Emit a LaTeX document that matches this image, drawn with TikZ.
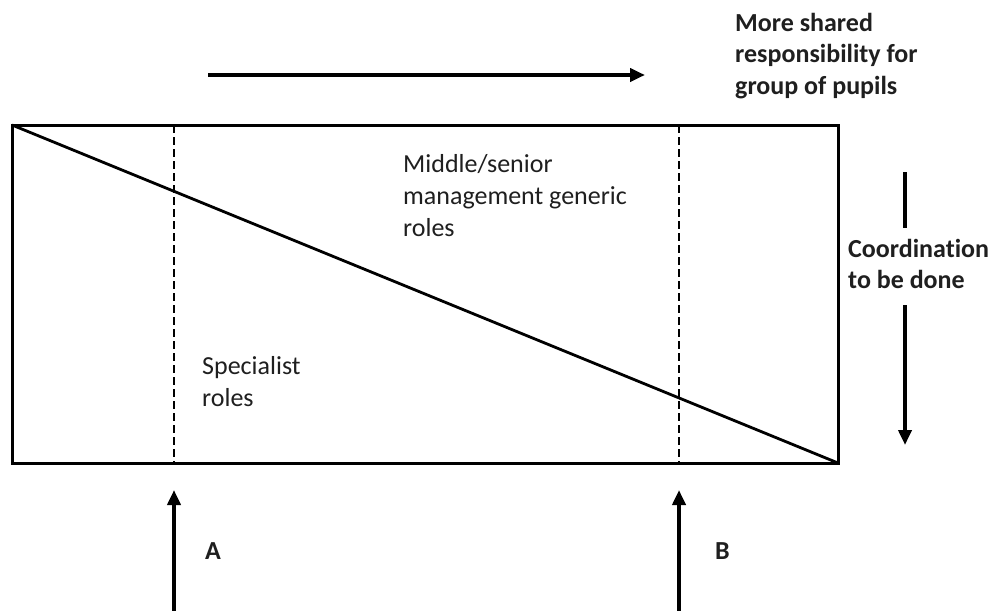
\documentclass[tikz,border=0pt]{standalone}
\usepackage{fontspec}
\setmainfont{Carlito}[Ligatures=NoCommon]
\usetikzlibrary{arrows.meta}
\begin{document}
\begin{tikzpicture}[x=1pt,y=-1pt,
  frame/.style={line width=3pt, line cap=rect},
  divider/.style={line width=2.6pt, dash pattern=on 8pt off 4pt},
  bigarrow/.style={line width=4pt, -{Triangle[length=15pt,width=13pt]}},
  plainline/.style={line width=4pt},
  lbl/.style={inner sep=0pt, anchor=north west, align=left, font=\fontsize{26}{32}\selectfont, text=black!88},
  blbl/.style={lbl, font=\fontsize{26}{31.5}\selectfont\bfseries}]
\useasboundingbox[fill=white] (0,0) rectangle (1000,610);
% corners and marks
\coordinate (tl) at (12,125);
\coordinate (br) at (838,463);
\coordinate (dAt) at (174,125);
\coordinate (dAb) at (174,463);
\coordinate (dBt) at (679,125);
\coordinate (dBb) at (679,463);
% frame and diagonal
\draw[frame] (tl) rectangle (br);
\draw[line width=2.8pt] (tl) -- (br);
\draw[divider] (dAt) -- (dAb);
\draw[divider] (dBt) -- (dBb);
% labels inside
\node[lbl] (mid) at (403,154) {Middle/senior\\management generic\\roles};
\node[lbl] (spec) at (202,356) {Specialist\\roles};
% top arrow
\coordinate (ts) at (208,75);
\coordinate (te) at (645,75);
\draw[bigarrow] (ts) -- (te);
\node[blbl] (share) at (735,13) {More shared\\responsibility for\\group of pupils};
% right arrow
\node[blbl] (coord) at (848,239) {Coordination\\to be done};
\coordinate (c1) at (905,172);
\coordinate (c2) at (905,228);
\coordinate (c3) at (905,305);
\coordinate (c4) at (905,445);
\draw[plainline] (c1) -- (c2);
\draw[bigarrow] (c3) -- (c4);
% bottom arrows
\coordinate (ab) at (174,612);
\coordinate (at) at (174,490);
\coordinate (bb) at (679,612);
\coordinate (bt) at (679,490);
\draw[bigarrow] (ab) -- (at);
\draw[bigarrow] (bb) -- (bt);
\node[blbl, anchor=base west] (A) at (205,559) {A};
\node[blbl, anchor=base west] (B) at (715,559) {B};
\end{tikzpicture}
\end{document}
